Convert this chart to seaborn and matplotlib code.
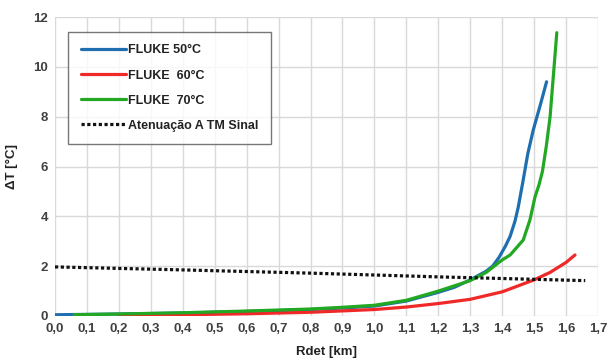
import matplotlib
matplotlib.use("Agg")
import matplotlib.pyplot as plt
import seaborn as sns
import pandas as pd
import numpy as np

# ---- data ----
blue_x = [0.0, 0.2, 0.4, 0.6, 0.8, 0.9, 1.0, 1.1, 1.2, 1.25, 1.3, 1.35, 1.37, 1.39, 1.41, 1.425, 1.44, 1.45, 1.465, 1.48, 1.497, 1.52, 1.539]
blue_y = [0.05, 0.08, 0.12, 0.18, 0.26, 0.32, 0.40, 0.60, 0.95, 1.15, 1.45, 1.80, 2.00, 2.35, 2.80, 3.20, 3.80, 4.35, 5.40, 6.50, 7.45, 8.50, 9.40]

red_x = [0.2, 0.4, 0.6, 0.8, 1.0, 1.1, 1.2, 1.3, 1.4, 1.5, 1.55, 1.6, 1.628]
red_y = [0.03, 0.05, 0.09, 0.15, 0.26, 0.36, 0.50, 0.67, 0.97, 1.45, 1.75, 2.15, 2.45]

green_x = [0.06, 0.2, 0.4, 0.6, 0.8, 0.9, 1.0, 1.1, 1.2, 1.3, 1.35, 1.38, 1.40, 1.425, 1.466, 1.487, 1.503, 1.515, 1.526, 1.538, 1.55, 1.56, 1.571]
green_y = [0.05, 0.08, 0.13, 0.20, 0.28, 0.35, 0.43, 0.63, 1.00, 1.42, 1.75, 2.05, 2.25, 2.45, 3.05, 3.86, 4.79, 5.25, 5.80, 6.80, 8.00, 9.60, 11.37]

atm_x = [0.0, 0.4, 0.8, 1.2, 1.66]
atm_y = [1.97, 1.85, 1.72, 1.57, 1.42]

labels = ["FLUKE 50°C", "FLUKE  60°C", "FLUKE  70°C", "Atenuação A TM Sinal"]
x_ticks = [round(0.1 * i, 1) for i in range(18)]
x_tick_labels = [f"{v:.1f}".replace(".", ",") for v in x_ticks]
y_ticks = [0, 2, 4, 6, 8, 10, 12]

sns.set_style("white")
plt.rcParams["font.family"] = ["Liberation Sans", "DejaVu Sans"]
plt.rcParams["font.weight"] = "bold"

fig = plt.figure(figsize=(6.08, 3.61), dpi=100)
ax = fig.add_axes([55/608, 45/361, 543/608, 299/361])

series = [
    (blue_x, blue_y, labels[0], "#1f6fb0", "-"),
    (red_x, red_y, labels[1], "#f02828", "-"),
    (green_x, green_y, labels[2], "#22a822", "-"),
    (atm_x, atm_y, labels[3], "#111111", (0, (1, 0.8))),
]
for xs, ys, lab, col, ls in series:
    df = pd.DataFrame({"x": xs, "y": ys})
    sns.lineplot(data=df, x="x", y="y", ax=ax, color=col, lw=2.3,
                 linestyle=ls, label=lab, sort=False, estimator=None)

ax.set_xlim(0, 1.7)
ax.set_ylim(0, 12)
ax.set_xticks(x_ticks)
ax.set_xticklabels(x_tick_labels)
ax.set_yticks(y_ticks)
ax.grid(True, color="#d9d9d9", lw=1)
for s in ax.spines.values():
    s.set_visible(False)
ax.tick_params(axis="both", labelsize=9.5, colors="#404040", length=0, pad=5)
for t in ax.get_xticklabels() + ax.get_yticklabels():
    t.set_fontweight("bold")
ax.set_xlabel("Rdet [km]", fontsize=9.5, fontweight="bold", color="#222222")
ax.set_ylabel("ΔT [°C]", fontsize=9.5, fontweight="bold", color="#222222")
ax.yaxis.set_label_coords(-0.068, 0.5)
ax.xaxis.set_label_coords(0.5, -0.12)
ax.xaxis.label.set_va("center")

leg = ax.legend(loc="upper left", bbox_to_anchor=(0.024, 0.95), fontsize=9,
                frameon=True, fancybox=False, edgecolor="#555555",
                handlelength=3.6, handletextpad=0.2, labelspacing=1.05,
                borderpad=1.0, borderaxespad=0)
leg.get_frame().set_linewidth(1.0)
for t in leg.get_texts():
    t.set_fontweight("bold")
    t.set_color("#222222")

fig.savefig("out.png", dpi=100)
